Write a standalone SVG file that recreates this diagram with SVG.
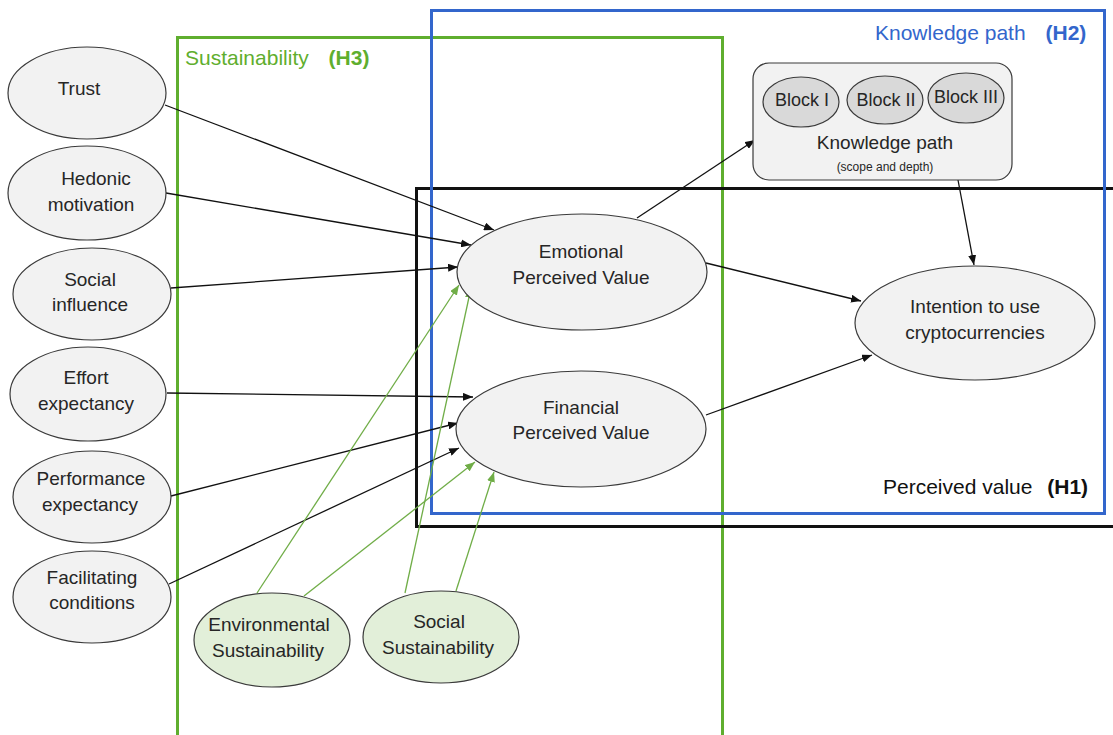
<svg xmlns="http://www.w3.org/2000/svg" width="1113" height="735" viewBox="0 0 1113 735">
<defs>
<marker id="ab" viewBox="0 0 10 8" refX="10" refY="4" markerWidth="10" markerHeight="8" markerUnits="userSpaceOnUse" orient="auto"><path d="M0,0 L10,4 L0,8 z" fill="#111"/></marker>
<marker id="ag" viewBox="0 0 10 8" refX="10" refY="4" markerWidth="10" markerHeight="8" markerUnits="userSpaceOnUse" orient="auto"><path d="M0,0 L10,4 L0,8 z" fill="#70ad47"/></marker>
</defs>
<style>
text{font-family:"Liberation Sans",Arial,sans-serif;fill:#262626;text-anchor:middle}
.n{fill:#f2f2f2;stroke:#3a3a3a;stroke-width:1.2}
.b{fill:#d9d9d9;stroke:#3a3a3a;stroke-width:1.2}
.g{fill:#e2efd9;stroke:#3a3a3a;stroke-width:1.2}
.t{font-size:19px}
.cb{stroke:#111;stroke-width:1.3;fill:none;marker-end:url(#ab)}
.cg{stroke:#70ad47;stroke-width:1.3;fill:none;marker-end:url(#ag)}
.frame{fill:none;stroke-width:3}
.h{font-size:21px;text-anchor:start}
</style>
<rect width="1113" height="735" fill="#fff"/>
<g id="frames">
<rect class="frame" x="177.5" y="37.5" width="545" height="710" stroke="#5fae2e"/>
<rect class="frame" x="416.5" y="188.5" width="710" height="338" stroke="#111"/>
<rect class="frame" x="431.5" y="10.5" width="673" height="503" stroke="#3366cc"/>
<text class="h" x="185" y="65" style="fill:#5fae2e">Sustainability <tspan dx="14" font-weight="bold">(H3)</tspan></text>
<text class="h" x="875" y="40" style="fill:#3366cc">Knowledge path <tspan dx="14" font-weight="bold">(H2)</tspan></text>
<text class="h" x="883" y="494" style="fill:#111">Perceived value <tspan dx="9" font-weight="bold">(H1)</tspan></text>
</g>
<g id="connectors">
<line class="cb" x1="165" y1="105" x2="494" y2="230"/>
<line class="cb" x1="166" y1="193" x2="471" y2="245"/>
<line class="cb" x1="171" y1="288" x2="458" y2="267"/>
<line class="cb" x1="167" y1="393" x2="473" y2="397"/>
<line class="cb" x1="171" y1="496" x2="458" y2="423"/>
<line class="cb" x1="169" y1="584" x2="459" y2="448"/>
<line class="cb" x1="637" y1="218" x2="755" y2="140"/>
<line class="cb" x1="958" y1="180" x2="974" y2="265"/>
<line class="cb" x1="706" y1="263" x2="861" y2="301"/>
<line class="cb" x1="706" y1="415" x2="872" y2="355"/>
<line class="cg" x1="257" y1="593" x2="459" y2="285"/>
<line class="cg" x1="304" y1="596" x2="475" y2="462"/>
<line class="cg" x1="405" y1="593" x2="471" y2="288"/>
<line class="cg" x1="456" y1="591" x2="494" y2="472"/>
</g>
<g id="trust"><ellipse class="n" cx="87" cy="93" rx="79" ry="46"/><text class="t" x="79" y="95">Trust</text></g>
<g id="hedonic"><ellipse class="n" cx="87" cy="193" rx="79" ry="47"/><text class="t" x="96" y="185">Hedonic</text><text class="t" x="91" y="211">motivation</text></g>
<g id="social-influence"><ellipse class="n" cx="92" cy="294" rx="79" ry="46"/><text class="t" x="90" y="286">Social</text><text class="t" x="90" y="311">influence</text></g>
<g id="effort"><ellipse class="n" cx="88" cy="394" rx="78" ry="47"/><text class="t" x="86" y="384">Effort</text><text class="t" x="86" y="410">expectancy</text></g>
<g id="performance"><ellipse class="n" cx="92" cy="497" rx="79" ry="46"/><text class="t" x="91" y="485">Performance</text><text class="t" x="90" y="511">expectancy</text></g>
<g id="facilitating"><ellipse class="n" cx="92" cy="597" rx="79" ry="46"/><text class="t" x="92" y="584">Facilitating</text><text class="t" x="92" y="609">conditions</text></g>
<g id="emotional"><ellipse class="n" cx="582" cy="272" rx="125" ry="58"/><text class="t" x="581" y="258">Emotional</text><text class="t" x="581" y="284">Perceived Value</text></g>
<g id="financial"><ellipse class="n" cx="581" cy="429" rx="125" ry="58"/><text class="t" x="581" y="414">Financial</text><text class="t" x="581" y="439">Perceived Value</text></g>
<g id="intention"><ellipse class="n" cx="975" cy="323" rx="120" ry="57"/><text class="t" x="975" y="313">Intention to use</text><text class="t" x="975" y="339">cryptocurrencies</text></g>
<g id="knowledge-path">
<rect class="n" x="753" y="63" width="259" height="117" rx="16"/>
<ellipse class="b" cx="801" cy="102" rx="38" ry="25"/><text class="t" x="802" y="106" style="font-size:18px">Block I</text>
<ellipse class="b" cx="885" cy="100" rx="38" ry="24"/><text class="t" x="886" y="106" style="font-size:18px">Block II</text>
<ellipse class="b" cx="966" cy="98" rx="38" ry="25"/><text class="t" x="966" y="103" style="font-size:18px">Block III</text>
<text class="t" x="885" y="149">Knowledge path</text>
<text x="885" y="171" style="font-size:12px">(scope and depth)</text>
</g>
<g id="env-sust"><ellipse class="g" cx="272" cy="640" rx="78" ry="47"/><text class="t" x="269" y="631">Environmental</text><text class="t" x="268" y="657">Sustainability</text></g>
<g id="soc-sust"><ellipse class="g" cx="441" cy="637" rx="78" ry="46"/><text class="t" x="439" y="628">Social</text><text class="t" x="438" y="654">Sustainability</text></g>
</svg>
